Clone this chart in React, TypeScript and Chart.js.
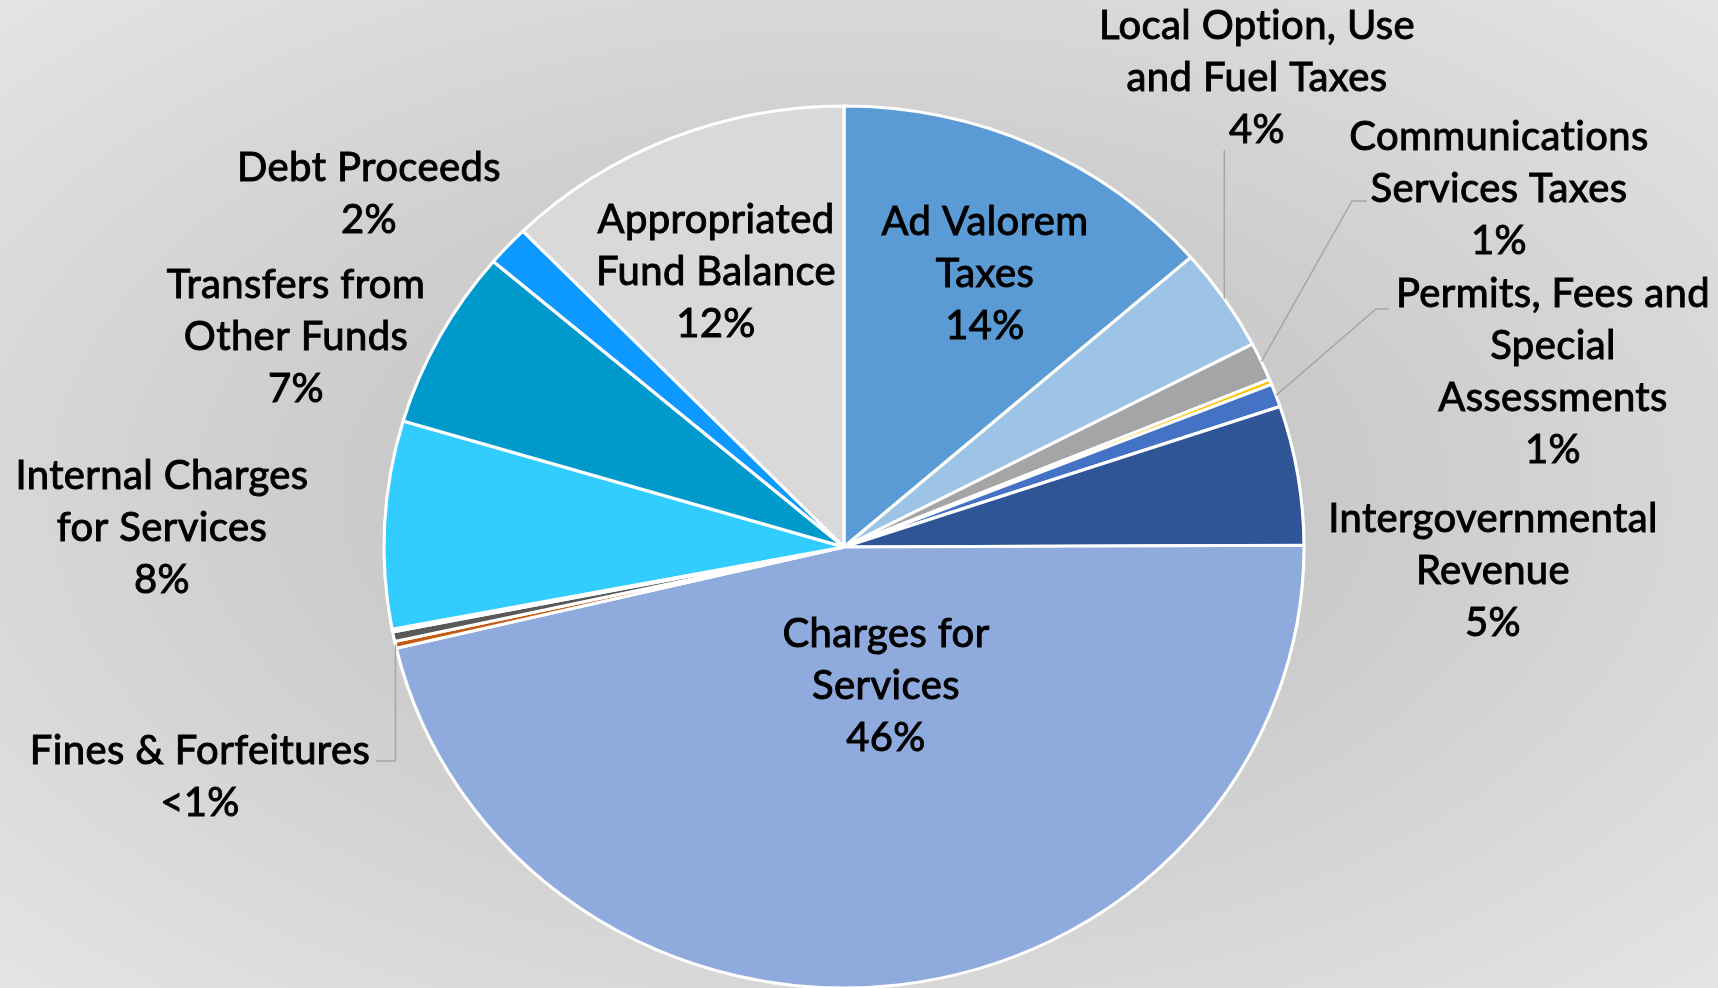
import React, { useEffect, useRef } from "react";
import { Chart, registerables } from "chart.js";

Chart.register(...registerables);

// ---------------- data ----------------
const categories = [
  "Ad Valorem Taxes",
  "Local Option, Use and Fuel Taxes",
  "Communications Services Taxes",
  "Other Taxes",
  "Permits, Fees and Special Assessments",
  "Intergovernmental Revenue",
  "Charges for Services",
  "Fines & Forfeitures",
  "Miscellaneous Revenue",
  "Other Sources",
  "Internal Charges for Services",
  "Transfers from Other Funds",
  "Debt Proceeds",
  "Appropriated Fund Balance",
];

const shares = [13.6, 3.8, 1.4, 0.2, 0.85, 5.1, 46.4, 0.25, 0.35, 0.1, 7.6, 6.6, 1.5, 12.3];

const sliceColors = [
  "#5B9BD5",
  "#9DC3E6",
  "#A5A5A5",
  "#FFC000",
  "#4472C4",
  "#2F5597",
  "#8FAADC",
  "#C55A11",
  "#595959",
  "#F4B183",
  "#33CCFF",
  "#0099CC",
  "#0D99FF",
  "#D9D9D9",
];

// label text lines (null = no label)
const labelLines: (string[] | null)[] = [
  ["Ad Valorem", "Taxes", "14%"],
  ["Local Option, Use", "and Fuel Taxes", "4%"],
  ["Communications", "Services Taxes", "1%"],
  null,
  ["Permits, Fees and", "Special", "Assessments", "1%"],
  ["Intergovernmental", "Revenue", "5%"],
  ["Charges for", "Services", "46%"],
  ["Fines & Forfeitures", "<1%"],
  null,
  null,
  ["Internal Charges", "for Services", "8%"],
  ["Transfers from", "Other Funds", "7%"],
  ["Debt Proceeds", "2%"],
  ["Appropriated", "Fund Balance", "12%"],
];

// ---------------- layout (positions / styles) ----------------
const W = 1718;
const H = 988;
const PIE_CX = 844;
const PIE_CY = 547;
const PIE_R = 441;
const X_STRETCH = 460 / 441;
const LINE_H = 52;
const FONT = "40px Lato";

// first-line centre of each label
const labelAnchors: ([number, number] | null)[] = [
  [985, 222],
  [1257, 26],
  [1499, 137],
  null,
  [1553, 294],
  [1493, 519],
  [886, 634],
  [200, 751],
  null,
  null,
  [162, 476],
  [296, 285],
  [369, 168],
  [716, 220],
];

// leader lines: fixed points, then the last point goes to slice's outer edge
type Leader = { index: number; pts: [number, number][]; vertical?: boolean };
const leaders: Leader[] = [
  { index: 1, pts: [[0, 150]], vertical: true },
  { index: 2, pts: [[1367, 201], [1352, 201]] },
  { index: 4, pts: [[1389, 309], [1376, 309]] },
  { index: 7, pts: [[376, 761], [0, 761]], vertical: true },
];

const ellipsePlugin = {
  id: "ellipsePie",
  beforeDatasetsDraw(chart: any) {
    const arc = chart.getDatasetMeta(0).data[0];
    if (!arc) return;
    const ctx = chart.ctx;
    ctx.save();
    ctx.translate(arc.x, arc.y);
    ctx.scale(X_STRETCH, 1);
    ctx.translate(-arc.x, -arc.y);
  },
  afterDatasetsDraw(chart: any) {
    const ctx = chart.ctx;
    ctx.restore();
    const meta = chart.getDatasetMeta(0);

    // leader lines
    ctx.save();
    ctx.strokeStyle = "#A6A6A6";
    ctx.lineWidth = 1.5;
    leaders.forEach((ld) => {
      const a = meta.data[ld.index];
      const props = a.getProps(["x", "y", "startAngle", "endAngle", "outerRadius"], true);
      const mid = (props.startAngle + props.endAngle) / 2;
      const ex = props.x + Math.cos(mid) * props.outerRadius * X_STRETCH;
      const ey = props.y + Math.sin(mid) * props.outerRadius;
      const pts = ld.pts.map((p) => [p[0], p[1]] as [number, number]);
      if (ld.vertical) {
        pts[pts.length - 1][0] = ex;
      }
      ctx.beginPath();
      ctx.moveTo(pts[0][0], pts[0][1]);
      for (let i = 1; i < pts.length; i++) ctx.lineTo(pts[i][0], pts[i][1]);
      ctx.lineTo(ex, ey);
      ctx.stroke();
    });
    ctx.restore();

    // labels
    ctx.save();
    ctx.font = FONT;
    try {
      (ctx as any).letterSpacing = "0.4px";
    } catch (e) {}
    ctx.fillStyle = "#000000";
    ctx.strokeStyle = "#000000";
    ctx.lineWidth = 1.0;
    ctx.textAlign = "center";
    ctx.textBaseline = "middle";
    labelLines.forEach((lines, i) => {
      const anc = labelAnchors[i];
      if (!lines || !anc) return;
      lines.forEach((t, k) => {
        const y = anc[1] + k * LINE_H;
        ctx.fillText(t, anc[0], y);
        ctx.strokeText(t, anc[0], y);
      });
    });
    ctx.restore();
  },
};

export default function App() {
  const canvasRef = useRef<HTMLCanvasElement | null>(null);

  useEffect(() => {
    document.body.style.margin = "0";
    document.body.style.overflow = "hidden";
    const canvas = canvasRef.current;
    if (!canvas) return;
    const chart = new Chart(canvas, {
      type: "pie",
      data: {
        labels: categories,
        datasets: [
          {
            data: shares,
            backgroundColor: sliceColors,
            borderColor: "#FFFFFF",
            borderWidth: 3,
            radius: PIE_R,
            clip: false as any,
          } as any,
        ],
      },
      options: {
        animation: false,
        responsive: false,
        maintainAspectRatio: false,
        devicePixelRatio: 1,
        events: [],
        layout: {
          padding: {
            left: PIE_CX - PIE_R,
            right: W - (PIE_CX + PIE_R),
            top: PIE_CY - PIE_R,
            bottom: H - (PIE_CY + PIE_R),
          },
        },
        plugins: {
          legend: { display: false },
          tooltip: { enabled: false },
          title: { display: false },
        },
      },
      plugins: [ellipsePlugin],
    });
    if ((document as any).fonts && (document as any).fonts.load) {
      (document as any).fonts.load(FONT).then(() => chart.draw()).catch(() => {});
    }
    return () => chart.destroy();
  }, []);

  return (
    <div
      style={{
        position: "relative",
        width: W,
        height: H,
        overflow: "hidden",
        background:
          "radial-gradient(ellipse farthest-corner at 50% 50%, #bdbdbd 0%, #c9c9c9 35%, #e4e4e4 100%)",
      }}
    >
      <canvas
        ref={canvasRef}
        width={W}
        height={H}
        style={{ position: "absolute", left: 0, top: 0, width: W, height: H }}
      />
    </div>
  );
}
